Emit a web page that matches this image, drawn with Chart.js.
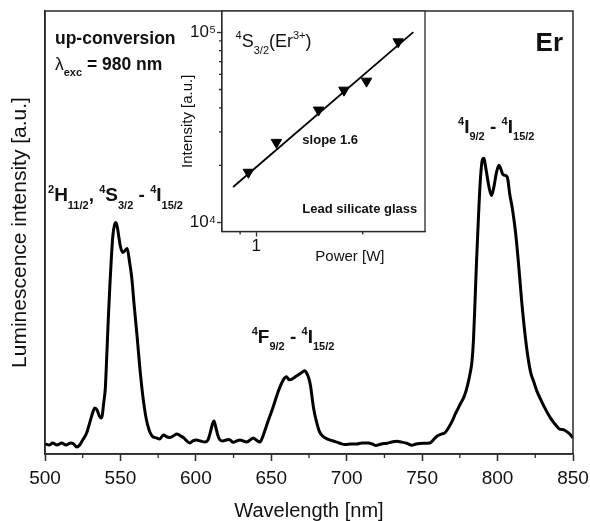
<!DOCTYPE html>
<html>
<head>
<meta charset="utf-8">
<script src="https://cdn.jsdelivr.net/npm/chart.js@4.4.1/dist/chart.umd.min.js"></script>
<style>
  body { margin: 0; background: #fff; }
  #wrap { position: relative; width: 590px; height: 521px; }
  #wrap canvas { position: absolute; top: 0; }
</style>
</head>
<body>
<div id="wrap">
  <canvas id="spectrum" width="590" height="521" style="left:0"></canvas>
  <canvas id="inset" width="265" height="275" style="left:170px"></canvas>
</div>
<script>
// --- Up-conversion emission spectrum (arbitrary units) ---
const wavelengthNm = [
  500, 503, 505, 508, 511, 514, 517, 519, 521, 523, 525, 527.6, 530, 532, 533, 534.5, 536, 537.5, 539, 540,
  541, 542, 543, 544, 545, 546, 547, 548, 549, 550, 551.5, 553, 554.5, 556, 557.5, 559, 561, 563, 565, 567,
  569, 571, 574, 576, 578.5, 581, 583, 585, 587.5, 590, 592, 594, 596, 598, 600.5, 603, 606, 608, 609.5, 611,
  612, 613, 614.5, 616, 618, 620, 622, 624.8, 627, 629.3, 631.5, 633.7, 636, 638, 640, 642.5, 644, 647, 651, 655,
  658, 660, 662, 664, 666, 668, 670, 672, 673, 675, 676, 678, 680, 682, 684, 687, 691, 695, 699, 703,
  706.6, 710, 714.3, 717, 719.4, 723, 726.5, 730, 733.1, 736, 739.8, 743.1, 746, 750.8, 755, 758, 760, 763, 765, 767,
  770, 772, 775, 778, 780, 782, 783, 784, 785, 786, 787, 788, 789, 790, 791, 792, 793, 794.5, 796, 797.5,
  799, 800, 801, 802, 803.5, 805, 806.5, 808, 810, 812, 814, 816, 818, 820, 822, 824, 826, 829, 832, 835,
  838, 841, 844, 847, 849, 850
];
const luminescence = [
  10, 9, 11, 9, 11, 9, 11, 10, 7, 9, 14, 21, 33, 43, 46, 44, 38, 36, 52, 66,
  100, 136, 168, 196, 218, 228, 231, 226, 216, 207, 201, 203, 205, 192, 176, 150, 118, 84, 56, 36,
  24, 18, 16, 15, 19, 17, 16.5, 18, 20, 18, 16, 13, 11, 13, 14, 13, 12, 14, 21, 30,
  33, 28, 19, 14, 13, 14, 14.5, 11.7, 13, 14, 13, 12, 14, 16, 14, 12, 16, 29, 46, 64,
  74, 77, 74, 75, 77, 79, 81, 83, 82, 75, 68, 46, 32, 22, 18, 15, 13, 11, 9.4, 10,
  10, 11, 11, 10, 8.4, 10, 10.7, 12, 12.7, 12, 10.7, 8.7, 10, 10.7, 11, 15, 18, 20, 21, 25,
  33, 40, 49, 58, 68, 82, 92, 113, 150, 190, 225, 258, 282, 294, 295, 287, 278, 265, 258, 266,
  279, 285, 288, 285, 279, 278, 276, 260, 243, 220, 188, 152, 122, 98, 81, 72, 63, 53, 44, 36,
  30, 25, 24, 21, 18, 16
];
const wavelengthTicks = [500, 550, 600, 650, 700, 750, 800, 850];
const wavelengthMinorTicks = [525, 575, 625, 675, 725, 775, 825];

// --- Inset: 4S3/2 emission vs pump power ---
const pumpPowerW = [0.95, 1.14, 1.50, 1.77, 2.05, 2.52];
const s32Intensity = [18400, 26400, 39000, 49600, 55300, 88900];
const fitPowerW = [0.86, 2.78];
const fitIntensity = [15400, 100000];
const powerTicks = [1];
const powerTickLabels = ['1'];
const powerMinorTicks = [0.9, 2];
const intensityTicks = [1e4, 1e5];
const intensityTickLabels = ['10⁴', '10⁵'];
const intensityMinorTicks = [2e4, 3e4, 4e4, 5e4, 6e4, 7e4, 8e4, 9e4];

const FONT = '"Liberation Sans", Arial, sans-serif';
const INK = '#111';
const AXIS = '#2a2a2a';

// draws text runs with sub (_) and superscript (^) parts
function drawRich(ctx, x, y, label) {
  const size = label.size;
  const small = Math.round(size * 0.6);
  let total = 0;
  const parts = label.runs.map(([text, kind, weight]) => {
    const px = kind ? small : size;
    const font = `${weight || label.weight} ${px}px ${FONT}`;
    ctx.font = font;
    const w = ctx.measureText(text).width;
    total += w;
    const dy = kind === '_' ? size * 0.38 : kind === '^' ? -size * 0.42 : 0;
    return { text, font, w, dy };
  });
  let cx = label.align === 'right' ? x - total : x;
  ctx.textAlign = 'left';
  ctx.textBaseline = 'alphabetic';
  ctx.fillStyle = INK;
  parts.forEach(p => {
    ctx.font = p.font;
    ctx.fillText(p.text, cx, y + p.dy);
    cx += p.w;
  });
}

function drawMinorTicks(ctx, scale, values, len) {
  ctx.save();
  ctx.strokeStyle = AXIS;
  ctx.lineWidth = 1.3;
  ctx.beginPath();
  values.forEach(v => {
    const p = scale.getPixelForValue(v);
    if (scale.isHorizontal()) {
      ctx.moveTo(p, scale.top);
      ctx.lineTo(p, scale.top + len);
    } else {
      ctx.moveTo(scale.right, p);
      ctx.lineTo(scale.right - len, p);
    }
  });
  ctx.stroke();
  ctx.restore();
}

function strokeFrame(chart, width) {
  const { ctx, chartArea: a } = chart;
  ctx.save();
  ctx.strokeStyle = AXIS;
  ctx.lineWidth = width;
  ctx.strokeRect(a.left, a.top, a.right - a.left, a.bottom - a.top);
  ctx.restore();
}

// fixed axis box, no extra room for overhanging tick labels
function fixSize(prop, value) {
  return s => {
    s[prop] = value;
    s.paddingLeft = s.paddingRight = s.paddingTop = s.paddingBottom = 0;
  };
}

const spectrumLabels = [
  { x: 502, y: 252, size: 19, weight: 'bold',
    runs: [['2', '^'], ['H'], ['11/2', '_'], [', '], ['4', '^'], ['S'], ['3/2', '_'], [' - '], ['4', '^'], ['I'], ['15/2', '_']] },
  { x: 637, y: 111, size: 19, weight: 'bold',
    runs: [['4', '^'], ['F'], ['9/2', '_'], [' - '], ['4', '^'], ['I'], ['15/2', '_']] },
  { x: 773.8, y: 320.5, size: 19, weight: 'bold',
    runs: [['4', '^'], ['I'], ['9/2', '_'], [' - '], ['4', '^'], ['I'], ['15/2', '_']] },
  { x: 506.6, y: 409.5, size: 17.5, weight: 'bold', runs: [['up-conversion']] },
  { x: 506.6, y: 383.5, size: 17.5, weight: 'bold',
    runs: [['λ', '', 'normal'], ['exc', '_'], [' = 980 nm']] },
  { x: 843.4, y: 402.5, size: 26, weight: 'bold', align: 'right', runs: [['Er']] }
];

const insetLabels = [
  { x: 0.874, y: 83750, size: 18, weight: 'normal',
    runs: [['4', '^'], ['S'], ['3/2', '_'], ['(Er'], ['3+', '^'], [')']] },
  { x: 1.35, y: 25770, size: 13, weight: 'bold', runs: [['slope 1.6']] },
  { x: 1.35, y: 11240, size: 13, weight: 'bold', runs: [['Lead silicate glass']] }
];

const spectrumDecor = {
  id: 'spectrumDecor',
  afterDraw(chart) {
    const { ctx, scales } = chart;
    strokeFrame(chart, 1.5);
    drawMinorTicks(ctx, scales.x, wavelengthMinorTicks, 4);
    spectrumLabels.forEach(l => {
      drawRich(ctx, scales.x.getPixelForValue(l.x), scales.y.getPixelForValue(l.y), l);
    });
  }
};

const insetDecor = {
  id: 'insetDecor',
  beforeDatasetsDraw(chart) {
    const { ctx, chartArea: a } = chart;
    ctx.save();
    ctx.fillStyle = '#fff';
    ctx.fillRect(a.left, a.top, a.right - a.left, a.bottom - a.top);
    ctx.restore();
  },
  afterDraw(chart) {
    const { ctx, scales } = chart;
    strokeFrame(chart, 1.3);
    drawMinorTicks(ctx, scales.x, powerMinorTicks, 3);
    drawMinorTicks(ctx, scales.y, intensityMinorTicks, 3);
    insetLabels.forEach(l => {
      drawRich(ctx, scales.x.getPixelForValue(l.x), scales.y.getPixelForValue(l.y), l);
    });
    // x-axis title sits off-centre, right of the tick label
    ctx.save();
    ctx.font = `15px ${FONT}`;
    ctx.fillStyle = INK;
    ctx.textAlign = 'center';
    ctx.textBaseline = 'middle';
    ctx.fillText('Power [W]', scales.x.getPixelForValue(1.84), scales.x.top + 25.5);
    ctx.restore();
  }
};

new Chart(document.getElementById('spectrum'), {
  type: 'line',
  data: {
    datasets: [{
      data: wavelengthNm.map((x, i) => ({ x, y: luminescence[i] })),
      borderColor: '#000',
      borderWidth: 3,
      pointRadius: 0,
      cubicInterpolationMode: 'monotone',
      borderJoinStyle: 'round',
      fill: false
    }]
  },
  options: {
    responsive: false,
    animation: false,
    events: [],
    layout: { padding: { top: 11, right: 17 } },
    plugins: { legend: { display: false }, tooltip: { enabled: false } },
    scales: {
      x: {
        type: 'linear',
        min: 500,
        max: 850,
        afterFit: fixSize('height', 67),
        afterBuildTicks: s => { s.ticks = wavelengthTicks.map(v => ({ value: v })); },
        ticks: { font: { family: FONT, size: 19 }, color: INK, padding: 6, maxRotation: 0 },
        grid: { drawOnChartArea: false, tickLength: 7, tickColor: AXIS, tickWidth: 1.5 },
        border: { color: AXIS, width: 1.5 },
        title: {
          display: true, text: 'Wavelength [nm]', color: INK,
          font: { family: FONT, size: 20, lineHeight: 1 }, padding: { top: 0, bottom: 0 }
        }
      },
      y: {
        min: 0,
        max: 442,
        afterFit: fixSize('width', 45),
        ticks: { display: false },
        grid: { display: false },
        border: { color: AXIS, width: 1.5 },
        title: {
          display: true, text: 'Luminescence intensity [a.u.]', color: INK,
          font: { family: FONT, size: 21, lineHeight: 1 }, padding: { top: 9.5, bottom: 0 }
        }
      }
    }
  },
  plugins: [spectrumDecor]
});

new Chart(document.getElementById('inset'), {
  type: 'scatter',
  data: {
    datasets: [
      {
        type: 'line',
        data: fitPowerW.map((x, i) => ({ x, y: fitIntensity[i] })),
        borderColor: '#000',
        borderWidth: 1.8,
        pointRadius: 0
      },
      {
        data: pumpPowerW.map((x, i) => ({ x, y: s32Intensity[i] })),
        pointStyle: 'triangle',
        rotation: 180,
        pointRadius: 6,
        backgroundColor: '#000',
        borderColor: '#000',
        borderWidth: 1
      }
    ]
  },
  options: {
    responsive: false,
    animation: false,
    events: [],
    layout: { padding: { top: 11, right: 10 } },
    plugins: { legend: { display: false }, tooltip: { enabled: false } },
    scales: {
      x: {
        type: 'logarithmic',
        min: 0.8,
        max: 3,
        afterFit: fixSize('height', 43.5),
        afterBuildTicks: s => { s.ticks = powerTicks.map(v => ({ value: v })); },
        ticks: {
          font: { family: FONT, size: 17 }, color: INK, padding: 0, maxRotation: 0,
          callback: (v, i) => powerTickLabels[i]
        },
        grid: { drawOnChartArea: false, tickLength: 5, tickColor: AXIS, tickWidth: 1.3 },
        border: { color: AXIS, width: 1.3 }
      },
      y: {
        type: 'logarithmic',
        min: 9000,
        max: 129000,
        afterFit: fixSize('width', 52),
        afterBuildTicks: s => { s.ticks = intensityTicks.map(v => ({ value: v })); },
        ticks: {
          font: { family: FONT, size: 17 }, color: INK, padding: 1,
          callback: (v, i) => intensityTickLabels[i]
        },
        grid: { drawOnChartArea: false, tickLength: 5, tickColor: AXIS, tickWidth: 1.3 },
        border: { color: AXIS, width: 1.3 },
        title: {
          display: true, text: 'Intensity [a.u.]', color: INK,
          font: { family: FONT, size: 15, lineHeight: 1 }, padding: { top: 10.5, bottom: 0 }
        }
      }
    }
  },
  plugins: [insetDecor]
});
</script>
</body>
</html>
